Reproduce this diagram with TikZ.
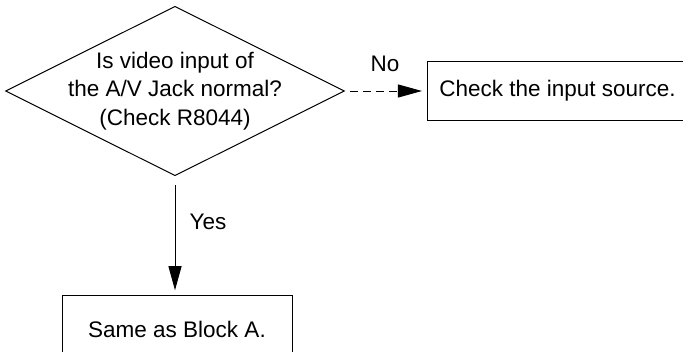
\documentclass[tikz,border=0pt]{standalone}
\usepackage{fontspec}
\setmainfont{Liberation Sans}
\usetikzlibrary{arrows.meta,shapes.geometric,positioning}

\begin{document}
\begin{tikzpicture}[
				x=1pt,y=1pt,
				txt/.style={font=\fontsize{22.5}{28.3}\selectfont},
				decision/.style={draw,diamond,txt,align=center,shape aspect=2,inner sep=-5pt,minimum width=336pt,minimum height=168pt,line width=1pt},
				block/.style={draw,rectangle,txt,align=center,line width=1pt},
				flow/.style={-{Triangle[length=24pt,width=13pt]},line width=1pt}
				]
				
				% Area visibile
				\useasboundingbox (0,0) rectangle (683,-351);
				\clip (0,0) rectangle (683,-351);
				
				% Decisione
				\node[decision] (video) at (175,-91) {Is video input of\\the A/V Jack normal?\\(Check R8044)};
				
				% Blocchi
				\node[block,minimum width=260pt,minimum height=59pt,right=82pt of video] (source) {Check the input source.};
				\node[block,minimum width=230pt,minimum height=68pt,below=119pt of video,xshift=2pt] (blocka) {Same as Block A.};
				
				% Connessioni
				\draw[flow,dash pattern=on 8pt off 5pt,shorten <=5pt,shorten >=5pt] (video.east) -- (source.west);
				\draw[flow,shorten <=9pt,shorten >=5pt] (video.south) -- (video.south |- blocka.north);
				
				% Etichette
				\node[txt] (no) at (385,-64) {No};
				\node[txt] (yes) at (208,-222) {Yes};
				
			\end{tikzpicture}
\end{document}
